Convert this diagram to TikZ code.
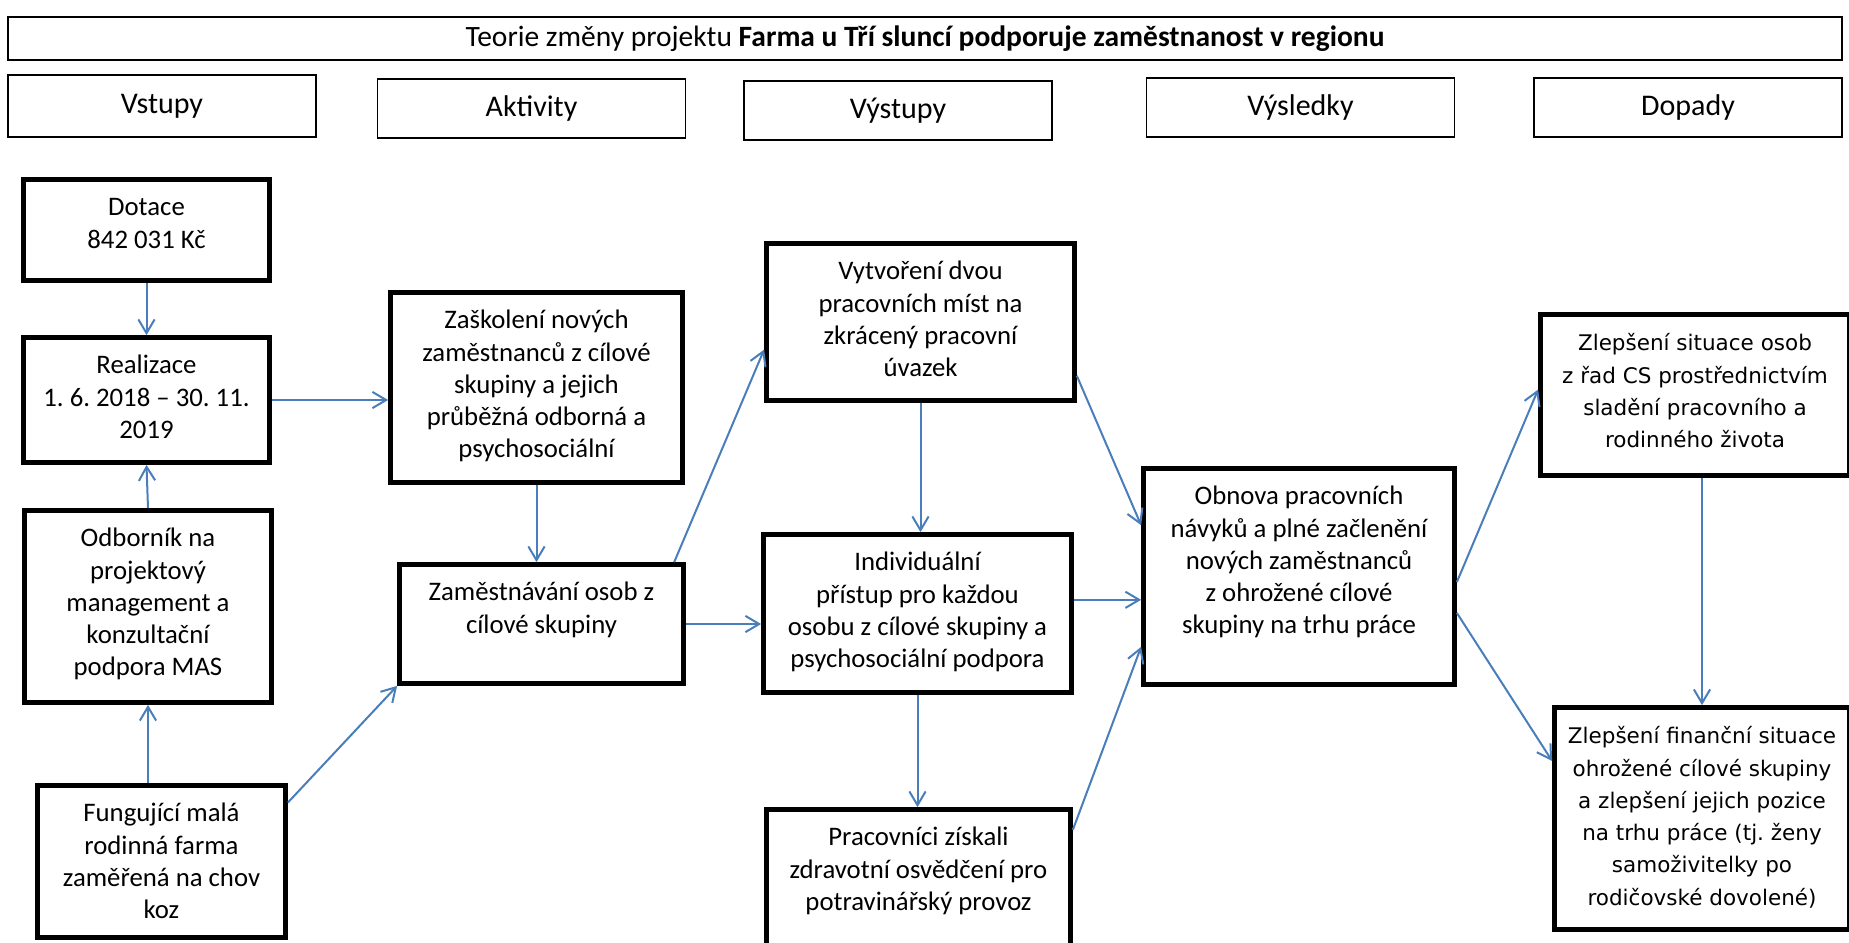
\documentclass[tikz,border=0pt]{standalone}
\usepackage{fontspec}
\setmainfont{Carlito}
\newfontfamily\verdanalike{DejaVu Sans}
\usetikzlibrary{arrows.meta}
\definecolor{arrblue}{HTML}{4A7EBB}
\frenchspacing
\newlength\pxu
\setlength\pxu{0.4pt}
\newcommand{\cell}[3]{\parbox[c][#2\pxu][t]{#1\pxu}{\centering\rule{0pt}{14.5pt}#3}}
\begin{document}
\begin{tikzpicture}[x=0.4pt, y=-0.4pt,
       tbox/.style={draw, line width=1.9pt, inner sep=0pt, font=\fontsize{10.7}{12.9}\selectfont},
       wbox/.style={tbox, font=\verdanalike\fontsize{8.6}{12.9}\selectfont},
       hbox/.style={draw, line width=0.6pt, inner sep=0pt, minimum width=308\pxu, minimum height=59\pxu, font=\fontsize{12}{14}\selectfont},
       arr/.style={-{Straight Barb[length=5.5pt,width=6.5pt]}, draw=arrblue, line width=0.8pt}]
       \useasboundingbox (0,0) rectangle (1849,942);
       % hlavicka
       \node[hbox, minimum width=1834\pxu, minimum height=43\pxu, font=\fontsize{11.8}{14}\selectfont] (titul) at (925,38.5)
            {Teorie změny projektu \textbf{Farma u Tří sluncí podporuje zaměstnanost v regionu}};
       \node[hbox, minimum height=62\pxu] (hvst) at (162,106) {Vstupy};
       \node[hbox] (hakt) at (531.5,108.5) {Aktivity};
       \node[hbox] (hvys) at (898,110.5) {Výstupy};
       \node[hbox] (hvysl) at (1300.5,107.5) {Výsledky};
       \node[hbox] (hdop) at (1688,107.5) {Dopady};
       % vstupy
       \node[tbox] (dotace) at (146.5,230) {\cell{246}{101}{Dotace\\842 031 Kč}};
       \node[tbox] (realiz) at (146.5,400) {\cell{246}{125}{Realizace\\1. 6. 2018 – 30. 11.\\2019}};
       \node[tbox] (odbor) at (148,606.5) {\cell{247}{192}{Odborník na\\projektový\\management a\\konzultační\\podpora MAS}};
       \node[tbox] (farma) at (161.5,861.5) {\cell{248}{152}{Fungující malá\\rodinná farma\\zaměřená na chov\\koz}};
       % aktivity
       \node[tbox] (zaskol) at (536.5,387.5) {\cell{292}{190}{Zaškolení nových\\zaměstnanců z cílové\\skupiny a jejich\\průběžná odborná a\\psychosociální}};
       \node[tbox] (zamest) at (541.5,624) {\cell{284}{119}{Zaměstnávání osob z\\cílové skupiny}};
       % vystupy
       \node[tbox] (vytvor) at (920.5,322) {\cell{308}{157}{Vytvoření dvou\\pracovních míst na\\zkrácený pracovní\\úvazek}};
       \node[tbox] (indiv) at (917.5,613.5) {\cell{308}{158}{Individuální\\přístup pro každou\\osobu z cílové skupiny a\\psychosociální podpora}};
       \node[tbox] (pracov) at (918.5,886) {\cell{304}{153}{Pracovníci získali\\zdravotní osvědčení pro\\potravinářský provoz}};
       % vysledky a dopady
       \node[tbox] (obnova) at (1299,576.5) {\cell{311}{216}{Obnova pracovních\\návyků a plné začlenění\\nových zaměstnanců\\z ohrožené cílové\\skupiny na trhu práce}};
       \node[wbox] (zlsit) at (1695,395) {\cell{309}{161}{Zlepšení situace osob\\z řad CS prostřednictvím\\sladění pracovního a\\rodinného života}};
       \node[wbox] (zlfin) at (1702,818.5) {\cell{295}{222}{Zlepšení finanční situace\\ohrožené cílové skupiny\\a zlepšení jejich pozice\\na trhu práce (tj. ženy\\samoživitelky po\\rodičovské dovolené)}};
       % sipky
       \draw[arr] (dotace.south) -- (realiz.north);
       \draw[arr] (odbor.north) -- (realiz.south);
       \draw[arr] (farma.north -| odbor.south) -- (odbor.south);
       \draw[arr] (realiz.east) -- (realiz.east -| zaskol.west);
       \draw[arr] (zaskol.south) -- (zaskol.south |- zamest.north);
       \draw[arr] (farma.25) -- (zamest.south west);
       \draw[arr] (zamest.25) -- (vytvor.190);
       \draw[arr] (zamest.east) -- (zamest.east -| indiv.west);
       \draw[arr] (vytvor.south) -- (vytvor.south |- indiv.north);
       \draw[arr] (indiv.south) -- (indiv.south |- pracov.north);
       \draw[arr] (vytvor.-19) -- (obnova.162);
       \draw[arr] (indiv.5) -- (indiv.5 -| obnova.west);
       \draw[arr] (pracov.20) -- (obnova.204);
       \draw[arr] (obnova.-2) -- (zlsit.178);
       \draw[arr] (obnova.-13) -- (zlfin.159);
       \draw[arr] (zlsit.south -| zlfin.north) -- (zlfin.north);
\end{tikzpicture}
\end{document}
